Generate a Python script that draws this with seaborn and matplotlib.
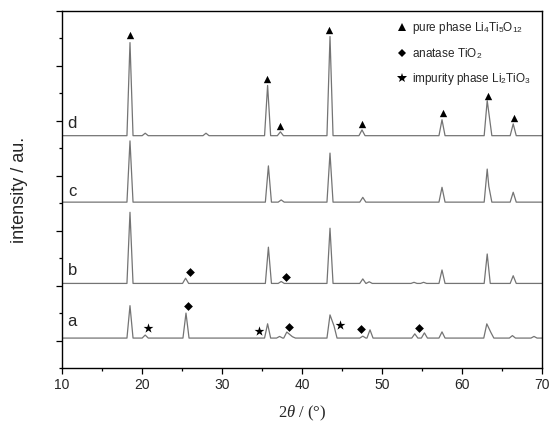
import numpy as np
import pandas as pd
import seaborn as sns
import matplotlib.pyplot as plt
from matplotlib.lines import Line2D
from matplotlib.ticker import MultipleLocator

# XRD patterns of samples a-d, peaks (2theta, top intensity)
samples = ["a", "b", "c", "d"]
baselines = {"a": 45, "b": 1040, "c": 2520, "d": 3730}

a_pos = [18.5, 20.4, 25.5, 35.7, 37.2, 38.1, 38.8, 43.5, 44.0, 47.6, 48.5, 54.1, 55.3, 57.5, 63.1, 63.6, 66.3, 69.0]
a_top = [635, 100, 500, 305, 75, 155, 70, 467, 267, 80, 195, 122, 140, 158, 304, 150, 90, 75]
b_pos = [18.5, 25.45, 35.8, 37.4, 43.5, 47.6, 48.4, 54.0, 55.2, 57.5, 63.15, 66.4]
b_top = [2335, 1135, 1700, 1075, 2045, 1122, 1070, 1060, 1060, 1285, 1576, 1180]
c_pos = [18.5, 35.8, 37.4, 43.5, 47.6, 57.5, 63.15, 63.35, 66.4]
c_top = [3635, 3180, 2560, 3413, 2607, 2790, 3122, 2810, 2700]
d_pos = [18.5, 20.4, 28.0, 35.7, 37.3, 43.5, 47.5, 57.5, 63.15, 63.35, 66.4]
d_top = [5425, 3775, 3775, 4645, 3800, 5535, 3835, 4020, 4370, 4150, 3945]
peaks = {"a": (a_pos, a_top), "b": (b_pos, b_top), "c": (c_pos, c_top), "d": (d_pos, d_top)}

# phase markers
tri_x = [18.5, 35.6, 37.3, 43.4, 47.5, 57.6, 63.2, 66.5]
tri_y = [5560, 4760, 3905, 5650, 3940, 4140, 4450, 4050]
dia_x = [26.0, 38.0, 25.8, 38.4, 47.4, 54.6]
dia_y = [1250, 1160, 625, 245, 213, 231]
star_x = [20.7, 34.6, 44.7]
star_y = [231, 171, 285]

label_y = {"a": 340, "b": 1267, "c": 2722, "d": 3958}


def trace_points(base, pos, top, w=0.38):
    # spike per peak; peaks closer than 2w merge into a shoulder
    pts = sorted(zip(pos, top))
    xs, ys = [10], [base]
    for i, (p, t) in enumerate(pts):
        if i == 0 or p - pts[i - 1][0] >= 2 * w:
            xs.append(p - w)
            ys.append(base)
        xs.append(p)
        ys.append(t)
        if i == len(pts) - 1 or pts[i + 1][0] - p >= 2 * w:
            xs.append(p + w)
            ys.append(base)
    xs.append(70)
    ys.append(base)
    return xs, ys


rows = []
for s in samples:
    xs, ys = trace_points(baselines[s], *peaks[s])
    rows += [{"sample": s, "two_theta": x, "intensity": y} for x, y in zip(xs, ys)]
df = pd.DataFrame(rows)

sns.set_theme(style="ticks")
plt.rcParams["font.family"] = ["Liberation Sans", "DejaVu Sans"]
plt.rcParams["mathtext.fontset"] = "custom"
plt.rcParams["mathtext.rm"] = "Liberation Sans"
plt.rcParams["mathtext.it"] = "Liberation Serif:italic"

fig, ax = plt.subplots(figsize=(5.52, 4.23), dpi=100)
fig.subplots_adjust(left=0.1123, right=0.9819, bottom=0.130, top=0.974)

sns.lineplot(data=df, x="two_theta", y="intensity", hue="sample", units="sample",
             estimator=None, sort=False, palette={s: "#747474" for s in samples},
             legend=False, lw=0.9, ax=ax)

sns.scatterplot(x=tri_x, y=tri_y, marker="^", s=28, color="black", linewidth=0, ax=ax)
sns.scatterplot(x=dia_x, y=dia_y, marker="D", s=20, color="black", linewidth=0, ax=ax)
sns.scatterplot(x=star_x, y=star_y, marker="*", s=55, color="black", linewidth=0, ax=ax)

for s in samples:
    ax.text(11.3, label_y[s], s, fontsize=12, ha="center", va="center")

ax.set_xlim(10, 70)
ax.set_ylim(-500, 6000)
ax.xaxis.set_major_locator(MultipleLocator(10))
ax.xaxis.set_minor_locator(MultipleLocator(5))
ax.yaxis.set_major_locator(MultipleLocator(1000))
ax.yaxis.set_minor_locator(MultipleLocator(500))
ax.tick_params(which="major", length=4.5, width=0.9, color="black", labelsize=10, pad=3)
ax.tick_params(which="minor", length=2.5, width=0.9, color="black")
ax.tick_params(axis="y", which="both", labelleft=False)
for sp in ax.spines.values():
    sp.set_color("black")
    sp.set_linewidth(1.0)

ax.set_xlabel("2$\\theta$ / (°)", family="Liberation Serif", fontsize=12, labelpad=8)
ax.set_ylabel("intensity / au.", fontsize=13)
ax.yaxis.set_label_coords(-0.07, 0.5)

handles = [
    Line2D([], [], ls="", marker="^", ms=5.3, color="black", mew=0),
    Line2D([], [], ls="", marker="D", ms=4.5, color="black", mew=0),
    Line2D([], [], ls="", marker="*", ms=7.4, color="black", mew=0),
]
labels = ["pure phase Li$_4$Ti$_5$O$_{12}$", "anatase TiO$_2$", "impurity phase Li$_2$TiO$_3$"]
ax.legend(handles, labels, loc="upper left", bbox_to_anchor=(0.695, 0.975), frameon=False,
          fontsize=8.5, handlelength=1.0, handletextpad=0.35, labelspacing=0.85,
          borderpad=0, borderaxespad=0)

fig.savefig("out.png", dpi=100)
